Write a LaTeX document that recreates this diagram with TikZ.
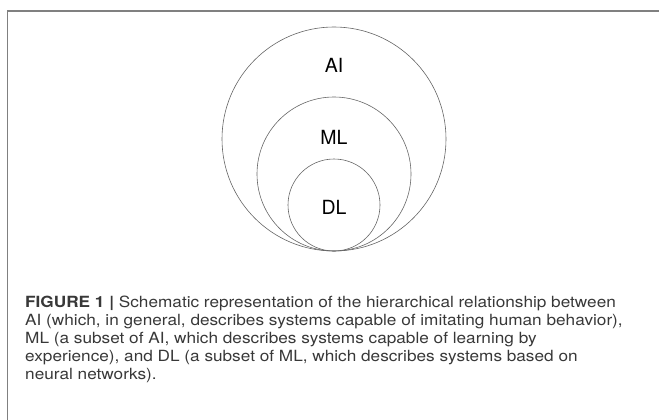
\documentclass[tikz,border=0pt]{standalone}
\usepackage{fontspec}
\usepackage{graphicx}
\setmainfont{TeX Gyre Heros}
\begin{document}
\begin{tikzpicture}[x=1pt, y=-1pt,
  halka/.style={draw=black!60, line width=0.6pt},
  kumeyazi/.style={font=\fontsize{19.5}{19.5}\selectfont, inner sep=0pt},
  altyazi/.style={font=\fontsize{15.4}{18.2}\selectfont, text=black!78,
    inner sep=0pt}]
  \useasboundingbox (0,0) rectangle (659,420);
  \def\X{334}  % ortak yatay merkez
  \def\Y{251}  % halkalarin degdigi alt nokta

  % ---- cerceve: yalniz ust ve sol kenar ----
  \draw[black!50, line width=1.2pt] (659,11) -- (7.5,11) -- (7.5,420);

  % ---- ic ice halkalar: AI > ML > DL ----
  \foreach \r in {112,77,46}
    \draw[halka] (\X,\Y-\r) circle (\r pt);

  \node[kumeyazi] (ai) at (\X,65)  {AI};
  \node[kumeyazi] (ml) at (\X,137) {ML};
  \node[kumeyazi] (dl) at (\X,207) {DL};

  % ---- alt yazi ----
  \node[altyazi, anchor=base west] (baslik) at (25,307)
    {\scalebox{1.117}[1]{\begin{tabular}[t]{@{}l@{}}
     \textbf{FIGURE 1 |} Schematic representation of the hierarchical relationship between\\
     AI (which, in general, describes systems capable of imitating human behavior),\\
     ML (a subset of AI, which describes systems capable of learning by\\
     experience), and DL (a subset of ML, which describes systems based on\\
     neural networks).
     \end{tabular}}};
\end{tikzpicture}
\end{document}
